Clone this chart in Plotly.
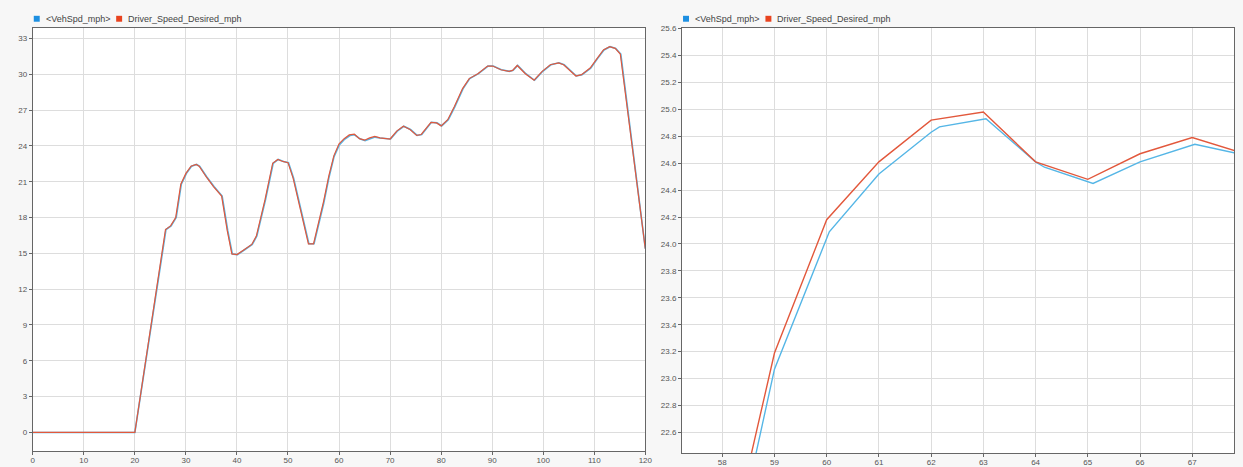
import plotly.graph_objects as go

W, H = 1243, 467

# ---- data ----
# Driver_Speed_Desired_mph (time s, speed mph)
desired_t = [0, 20, 26, 27, 28, 29, 30, 31, 32, 32.6, 34, 35.4, 37, 38.1, 39, 40,
             41.4, 42.9, 43.8, 45.5, 47, 48, 49, 50, 51, 52.6, 54, 55, 56.5, 57,
             58, 59, 60, 61, 62, 63, 64, 65, 66, 67, 68, 70, 71.3, 72.6, 73.9,
             75.2, 76.1, 78, 79.1, 80, 81.3, 82.6, 84.2, 85.5, 87.2, 89.1, 90.1,
             91.7, 93.3, 94, 94.9, 96.5, 98.2, 99.8, 101.4, 103, 104, 105.1,
             106.4, 107.5, 109.2, 110.5, 111.8, 113, 114.1, 115.1, 120]
desired_v = [0, 0, 17.0, 17.3, 18.0, 20.8, 21.7, 22.3, 22.45, 22.3, 21.4, 20.6,
             19.8, 16.9, 14.95, 14.9, 15.3, 15.75, 16.45, 19.5, 22.55, 22.87, 22.7,
             22.6, 21.3, 18.4, 15.8, 15.8, 18.4, 19.4, 21.5, 23.19, 24.18, 24.61,
             24.92, 24.98, 24.61, 24.48, 24.67, 24.79, 24.67, 24.58, 25.24, 25.65,
             25.38, 24.88, 24.96, 25.98, 25.93, 25.68, 26.2, 27.3, 28.8, 29.64,
             30.05, 30.69, 30.69, 30.38, 30.25, 30.33, 30.74, 30.05, 29.5, 30.25,
             30.8, 30.96, 30.8, 30.33, 29.86, 29.97, 30.52, 31.3, 32.04, 32.31,
             32.17, 31.7, 15.4]

# <VehSpd_mph> (time s, speed mph)
vehspd_t = [0, 20, 26.1, 27.1, 28.1, 29.1, 30.1, 31.1, 32.1, 32.7, 34.1, 35.5,
            37.1, 38.2, 39.1, 40.1, 41.5, 43, 43.9, 45.6, 47.1, 48.1, 49.1, 50.1,
            51.1, 52.7, 54.1, 55.1, 56.6, 57, 58, 59, 60.05, 61, 62, 62.16, 63.05,
            64, 64.17, 65.1, 66, 67.05, 68, 70.1, 71.4, 72.7, 74, 75.3, 76.2, 78.1,
            79.2, 80.1, 81.4, 82.7, 84.3, 85.6, 87.3, 89.2, 90.2, 91.8, 93.4,
            94.1, 95, 96.6, 98.3, 99.9, 101.5, 103.1, 104.1, 105.2, 106.5, 107.6,
            109.3, 110.6, 111.9, 113.1, 114.2, 115.2, 120]
vehspd_v = [0, 0, 17.0, 17.3, 18.0, 20.8, 21.7, 22.3, 22.45, 22.3, 21.4, 20.6,
            19.8, 16.9, 14.95, 14.9, 15.3, 15.75, 16.45, 19.5, 22.55, 22.87, 22.7,
            22.6, 21.3, 18.4, 15.8, 15.8, 18.4, 19.2, 21.3, 23.07, 24.09, 24.52,
            24.83, 24.87, 24.93, 24.61, 24.57, 24.45, 24.61, 24.74, 24.66, 24.58,
            25.24, 25.65, 25.38, 24.88, 24.96, 25.98, 25.93, 25.68, 26.2, 27.3,
            28.8, 29.64, 30.05, 30.69, 30.69, 30.38, 30.25, 30.33, 30.74, 30.05,
            29.5, 30.25, 30.8, 30.96, 30.8, 30.33, 29.86, 29.97, 30.52, 31.3,
            32.04, 32.31, 32.17, 31.7, 15.4]

series_names = ["<VehSpd_mph>", "Driver_Speed_Desired_mph"]

left_xticks = list(range(0, 121, 10))
left_yticks = list(range(0, 34, 3))
right_xticks = list(range(58, 68))
right_yticks = [round(22.6 + 0.2 * i, 1) for i in range(16)]

# ---- styling ----
BLUE_LINE = "#55b6e6"
RED_LINE = "#e2583c"
BLUE_KEY = "#1d8fe1"
RED_KEY = "#e8431f"
GRID = "#dddddd"
AXIS = "#666666"
TICKFONT = dict(family="Liberation Sans, Arial, sans-serif", size=8, color="#555555")


def px_x(p):
    return p / W


def px_y(p):
    return 1 - p / H


fig = go.Figure()

for xa, ya, wb, wr in (("x", "y", 1.6, 1.2), ("x2", "y2", 1.4, 1.4)):
    fig.add_trace(go.Scatter(x=vehspd_t, y=vehspd_v, mode="lines", name=series_names[0],
                             line=dict(color=BLUE_LINE, width=wb), xaxis=xa, yaxis=ya,
                             showlegend=False))
    fig.add_trace(go.Scatter(x=desired_t, y=desired_v, mode="lines", name=series_names[1],
                             line=dict(color=RED_LINE, width=wr), xaxis=xa, yaxis=ya,
                             showlegend=False))

axis_common = dict(showgrid=True, gridcolor=GRID, gridwidth=1, showline=True,
                   linecolor=AXIS, linewidth=1, mirror=True, ticks="outside",
                   ticklen=3, tickcolor=AXIS, tickfont=TICKFONT, zeroline=False)

fig.update_layout(
    width=W, height=H,
    margin=dict(l=0, r=0, t=0, b=0),
    paper_bgcolor="#f7f7f7",
    plot_bgcolor="white",
    xaxis=dict(domain=[px_x(31), px_x(648)], range=[0, 120], tickvals=left_xticks,
               anchor="y", ticklabelstandoff=-2, **axis_common),
    yaxis=dict(domain=[px_y(455), px_y(25)], range=[-1.57, 33.91], tickvals=left_yticks,
               anchor="x", **axis_common),
    xaxis2=dict(domain=[px_x(685), px_x(1241)], range=[57.23, 67.80], tickvals=right_xticks,
                anchor="y2", ticklabelstandoff=-2, **axis_common),
    yaxis2=dict(domain=[px_y(457), px_y(25)], range=[22.446, 25.607], tickvals=right_yticks,
                tickformat=".1f", anchor="x2", **axis_common),
)

# legend keys (squares + labels) for each panel
legend_font = dict(family="Liberation Sans, Arial, sans-serif", size=9, color="#444444")
legend_layout = [
    # (square left px, text left px, colour, label index)
    (32, 42, BLUE_KEY, 0), (115, 125, RED_KEY, 1),
    (686, 696, BLUE_KEY, 0), (769, 779, RED_KEY, 1),
]
for sq_x, tx, col, idx in legend_layout:
    fig.add_shape(type="rect", xref="paper", yref="paper",
                  x0=px_x(sq_x), x1=px_x(sq_x + 6), y0=px_y(19), y1=px_y(13),
                  fillcolor=col, line=dict(width=0))
    fig.add_annotation(x=px_x(tx), y=px_y(16), xref="paper", yref="paper",
                       text=series_names[idx].replace("<", "&lt;").replace(">", "&gt;"),
                       showarrow=False, xanchor="left", yanchor="middle",
                       font=legend_font)

# remove the default page margin so the figure fills the window exactly
fig.write_html("out.html", config={"displayModeBar": False},
               post_script="document.body.style.margin='0';")
